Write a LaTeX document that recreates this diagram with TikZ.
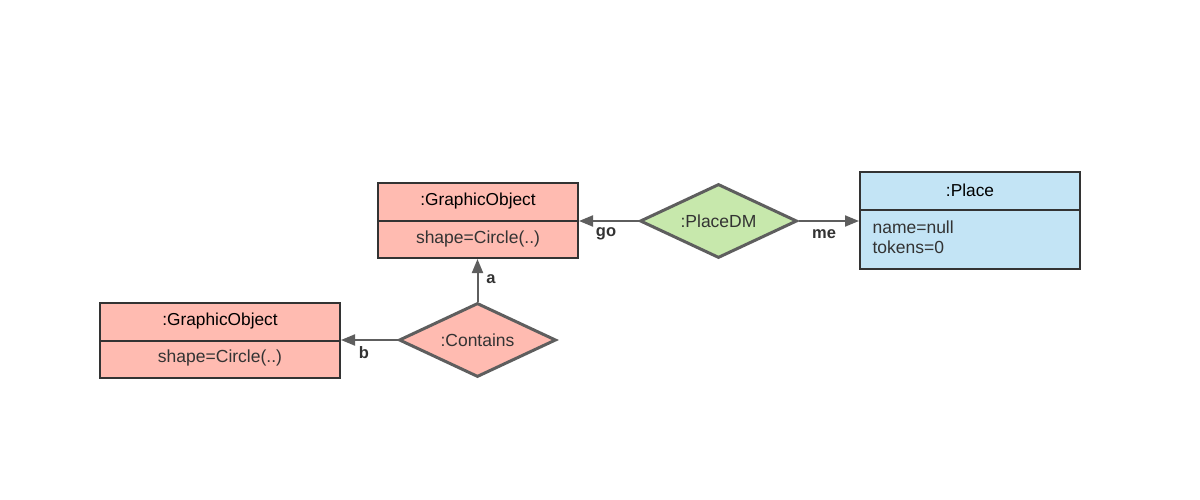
\documentclass[tikz,border=0pt]{standalone}
\usepackage{fontspec}
\setmainfont{Liberation Sans}
\usetikzlibrary{shapes.geometric,arrows.meta}
\definecolor{salmon}{HTML}{FFBBB1}
\definecolor{lgreen}{HTML}{C7E8AC}
\definecolor{lblue}{HTML}{C3E4F5}
\definecolor{boxline}{HTML}{333333}
\definecolor{dline}{HTML}{5E5E5E}
\definecolor{txt}{HTML}{333333}
\tikzset{
  objbox/.style={draw=boxline, line width=2pt, inner sep=0pt},
  rel/.style={diamond, draw=dline, line width=3pt, inner sep=0pt, minimum width=157pt, minimum height=74pt},
  reltext/.style={font=\fontsize{17.5}{20}\selectfont, text=txt},
  conn/.style={draw=dline, line width=2pt, -{Triangle[length=14pt,width=11pt]}, shorten >=0pt},
  head/.style={font=\fontsize{17.3}{20}\selectfont, text=black},
  attr/.style={font=\fontsize{17.5}{20}\selectfont, text=txt},
  lbl/.style={font=\bfseries\fontsize{16.5}{19}\selectfont, text=txt}
}
\begin{document}
\begin{tikzpicture}[x=1pt,y=-1pt]
\useasboundingbox (0,0) rectangle (1200,500);
% top graphic object
\node[objbox, fill=salmon, minimum width=200pt, minimum height=75pt] (go1) at (478,220.5) {};
\draw[boxline, line width=2pt] (go1.west |- 0,221) coordinate (g1l) -- (go1.east |- 0,221) coordinate (g1r);
\node[head] (go1h) at (478,201) {:GraphicObject};
\node[attr] (go1a) at (478,239) {shape=Circle(..)};
% place box
\node[objbox, fill=lblue, minimum width=220pt, minimum height=97pt] (pl) at (970,220.5) {};
\draw[boxline, line width=2pt] (pl.west |- 0,210) coordinate (pll) -- (pl.east |- 0,210) coordinate (plr);
\node[head] (plh) at (970,190) {:Place};
\node[attr, anchor=west] (pla1) at (869,227) {name=null};
\node[attr, anchor=west] (pla2) at (869,247) {tokens=0};
% bottom graphic object
\node[objbox, fill=salmon, minimum width=240pt, minimum height=75pt] (go2) at (220,340.5) {};
\draw[boxline, line width=2pt] (go2.west |- 0,341) coordinate (g2l) -- (go2.east |- 0,341) coordinate (g2r);
\node[head] (go2h) at (220,321) {:GraphicObject};
\node[attr] (go2a) at (220,358) {shape=Circle(..)};
% diamonds
\node[rel, fill=lgreen] (pdm) at (718.5,221) {};
\node[reltext] (pdmt) at (pdm.center) {:PlaceDM};
\node[rel, fill=salmon] (con) at (477.5,340) {};
\node[reltext] (cont) at (con.center) {:Contains};
% connectors
\draw[conn] (pdm.west) -- (go1.east |- pdm.west);
\draw[conn] (pdm.east) -- (pl.west |- pdm.east);
\draw[conn] (con.north) -- (go1.south -| con.north);
\draw[conn] (con.west) -- (go2.east |- con.west);
% labels
\node[lbl] (lgo) at (606,234) {go};
\node[lbl] (lme) at (824,234) {me};
\node[lbl] (la) at (491,279) {a};
\node[lbl] (lb) at (364,353) {b};
\end{tikzpicture}
\end{document}
